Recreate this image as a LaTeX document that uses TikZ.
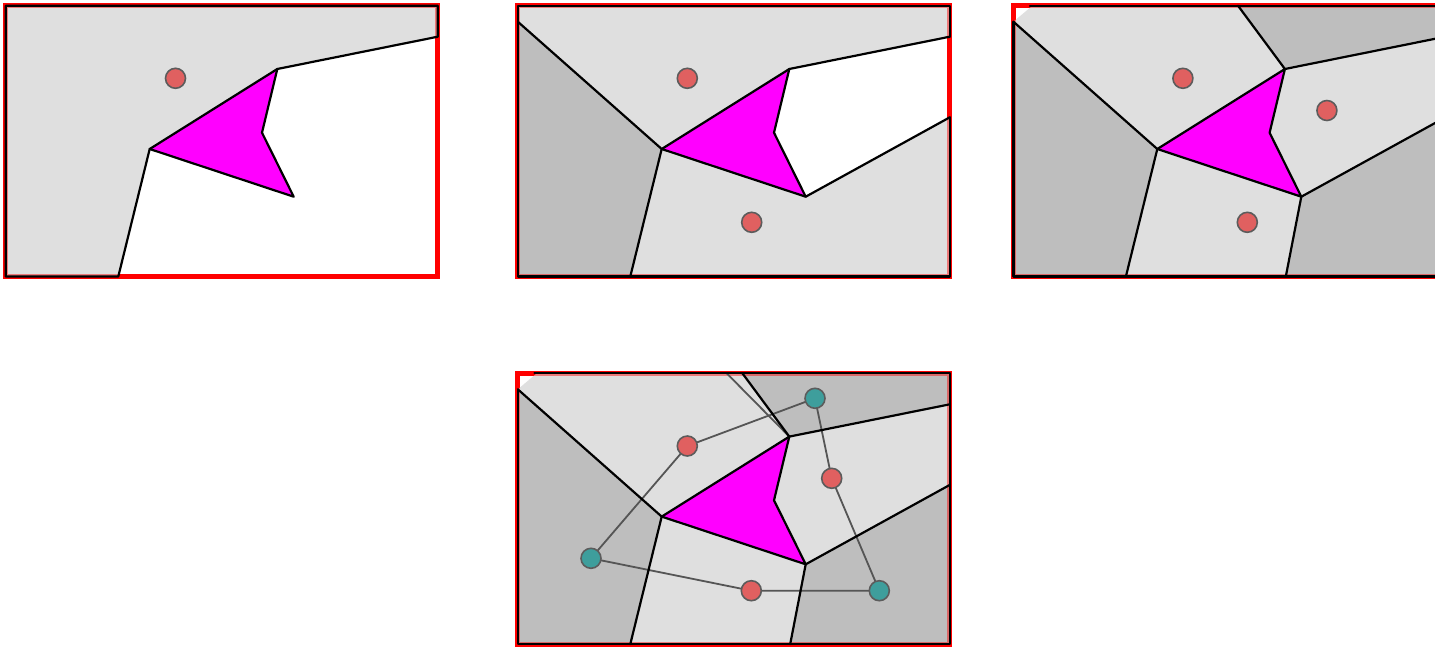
\documentclass[tikz,border=0pt]{standalone}
\definecolor{lightc}{HTML}{DFDFDF}
\definecolor{darkc}{HTML}{BEBEBE}
\definecolor{sitered}{HTML}{E06060}
\definecolor{siteteal}{HTML}{3E9E9C}
\definecolor{sitegray}{HTML}{5C5C5C}
\definecolor{linkgray}{HTML}{555555}
\definecolor{magentac}{HTML}{FF00FF}
\tikzset{
  edge/.style={draw=black, line width=2.2pt, line join=round, line cap=round},
  redborder/.style={draw=red, line width=5pt},
  pinkborder/.style={draw=red, draw opacity=0.45, line width=1.5pt},
  site/.style={circle, fill=sitered, draw=sitegray, line width=1.6pt, minimum size=20pt, inner sep=0pt},
  tsite/.style={site, fill=siteteal},
  link/.style={draw=linkgray, line width=1.8pt},
}
\newcommand\defpts{%
  \coordinate (A) at (271.5,63.3);
  \coordinate (Lv) at (143.9,143.3);
  \coordinate (Bv) at (287.9,191);
  \coordinate (N) at (256.2,127);
  \coordinate (ur) at (432,31);
  \coordinate (lr) at (432,111.6);
  \coordinate (le) at (0,16);
  \coordinate (bl) at (112.5,270.8);
  \coordinate (tp) at (224.6,0);
  \coordinate (br) at (272.4,270.8);
  \coordinate (c1) at (0,0);
  \coordinate (c2) at (432,0);
  \coordinate (c3) at (432,270.8);
  \coordinate (c4) at (0,270.8);
  \coordinate (cut) at (19,0);
  \coordinate (cutb) at (16.6,0);
}
\newcommand\fullcells{%
  \fill[lightc] (le) -- (Lv) -- (A) -- (tp) -- (cut) -- cycle;
  \fill[darkc] (A) -- (tp) -- (c2) -- (ur) -- cycle;
  \fill[lightc] (A) -- (ur) -- (lr) -- (Bv) -- (N) -- cycle;
  \fill[darkc] (Bv) -- (lr) -- (c3) -- (br) -- cycle;
  \fill[lightc] (Lv) -- (Bv) -- (br) -- (bl) -- cycle;
  \fill[darkc] (le) -- (Lv) -- (bl) -- (c4) -- cycle;
  \draw[pinkborder] (1.75,1.75) rectangle (430.25,269.05);
  \fill[magentac] (A) -- (N) -- (Bv) -- (Lv) -- cycle;
}
\newcommand\fulledges{%
  \draw[edge] (cutb) -- (c2) -- (c3) -- (c4) -- (le);
  \draw[edge] (le) -- (Lv) -- (A) -- (tp);
  \draw[edge] (A) -- (ur);
  \draw[edge] (Lv) -- (bl);
  \draw[edge] (Bv) -- (br);
  \draw[edge] (Bv) -- (lr);
  \draw[edge] (A) -- (N) -- (Bv) -- (Lv);
}
\begin{document}
\begin{tikzpicture}[x=1pt,y=-1pt]
\useasboundingbox (0,0) rectangle (1435,646);
\clip (0,0) rectangle (1435,646);
% panel 1
\begin{scope}[shift={(5.8,5.7)}]
  \defpts
  \draw[redborder] (c1) rectangle (c3);
  \fill[lightc] (c1) -- (c2) -- (ur) -- (A) -- (Lv) -- (bl) -- (c4) -- cycle;
  \draw[pinkborder] (1.75,1.75) rectangle (430.25,269.05);
  \fill[magentac] (A) -- (N) -- (Bv) -- (Lv) -- cycle;
  \draw[edge] (c1) -- (c2) -- (ur) -- (A) -- (Lv) -- (bl) -- (c4) -- cycle;
  \draw[edge] (A) -- (N) -- (Bv) -- (Lv);
  \node[site] (p1s1) at (169.7,72.6) {};
\end{scope}
% panel 2
\begin{scope}[shift={(517.8,5.7)}]
  \defpts
  \draw[redborder] (c1) rectangle (c3);
  \fill[lightc] (c1) -- (c2) -- (ur) -- (A) -- (Lv) -- (le) -- cycle;
  \fill[darkc] (le) -- (Lv) -- (bl) -- (c4) -- cycle;
  \fill[lightc] (Lv) -- (Bv) -- (lr) -- (c3) -- (bl) -- cycle;
  \draw[pinkborder] (1.75,1.75) rectangle (430.25,269.05);
  \fill[magentac] (A) -- (N) -- (Bv) -- (Lv) -- cycle;
  \draw[edge] (ur) -- (c2) -- (c1) -- (c4) -- (c3) -- (lr);
  \draw[edge] (ur) -- (A) -- (Lv) -- (le);
  \draw[edge] (Lv) -- (bl);
  \draw[edge] (lr) -- (Bv) -- (Lv);
  \draw[edge] (A) -- (N) -- (Bv);
  \node[site] (p2s1) at (169.5,72.6) {};
  \node[site] (p2s2) at (233.9,216.6) {};
\end{scope}
% panel 3
\begin{scope}[shift={(1013.4,5.7)}]
  \defpts
  \draw[redborder] (c1) rectangle (c3);
  \fullcells
  \fulledges
  \node[site] (p3s1) at (169.5,72.6) {};
  \node[site] (p3s2) at (233.9,216.6) {};
  \node[site] (p3s3) at (313.5,104.8) {};
\end{scope}
% panel 4
\begin{scope}[shift={(517.8,373.3)}]
  \defpts
  \draw[redborder] (c1) rectangle (c3);
  \fullcells
  \coordinate (r1) at (169.5,72.7);
  \coordinate (r2) at (233.5,217.4);
  \coordinate (r3) at (313.9,105);
  \coordinate (t1) at (297.2,25);
  \coordinate (t2) at (73.2,185);
  \coordinate (t3) at (361.5,217.4);
  \coordinate (gtop) at (208.9,0);
  \draw[link] (gtop) -- (A);
  \draw[link] (t1) -- (r1) -- (t2) -- (r2) -- (t3) -- (r3) -- (t1);
  \fulledges
  \node[site] (p4s1) at (r1) {};
  \node[site] (p4s2) at (r2) {};
  \node[site] (p4s3) at (r3) {};
  \node[tsite] (p4t1) at (t1) {};
  \node[tsite] (p4t2) at (t2) {};
  \node[tsite] (p4t3) at (t3) {};
\end{scope}
\end{tikzpicture}
\end{document}
